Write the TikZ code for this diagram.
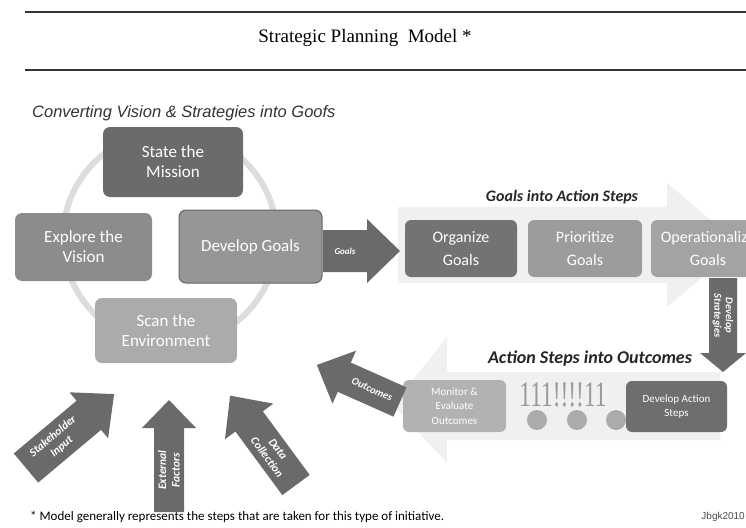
\documentclass[tikz,border=0pt]{standalone}
\usepackage{fontspec}
\setmainfont{Carlito}
\newfontfamily\serfont{Liberation Serif}
\newfontfamily\arifont{Liberation Sans}
\definecolor{arrowgray}{HTML}{6A6A6A}
\definecolor{pale}{HTML}{F0F0F0}
\definecolor{ringgray}{HTML}{DDDDDD}
\newcommand{\blockarrow}[7]{%
  % #1 name, #2 tail, #3 angle, #4 length, #5 body half, #6 head half, #7 head length
  \begin{scope}[shift={#2}, rotate=#3]
    \fill[arrowgray] (0,{-#5}) -- ({#4-#7},{-#5}) -- ({#4-#7},{-#6}) -- (#4,0)
      -- ({#4-#7},#6) -- ({#4-#7},#5) -- (0,#5) -- cycle;
    \coordinate (#1) at ({(#4-#7)/2},0);
  \end{scope}}
\tikzset{
  cyc/.style={rounded corners=7pt, align=center, text=white, inner sep=0pt,
    font=\fontsize{17}{20}\selectfont},
  stepbox/.style={rounded corners=6pt, align=center, text=white, inner sep=0pt,
    font=\fontsize{16}{23}\selectfont, minimum height=57pt},
  smallbox/.style={rounded corners=6pt, align=center, text=white, inner sep=0pt,
    font=\fontsize{11}{14.5}\selectfont},
  albl/.style={text=white, align=center, inner sep=0pt,
    font=\bfseries\itshape\fontsize{10}{11}\selectfont},
  inlbl/.style={albl, font=\bfseries\itshape\fontsize{11.5}{13.5}\selectfont},
  hdr/.style={text=black!85, font=\bfseries\itshape\fontsize{16}{18}\selectfont, inner sep=0pt},
}
\begin{document}
\begin{tikzpicture}[x=1pt,y=-1pt]
\useasboundingbox (0,0) rectangle (746,527);
\clip (0,0) rectangle (746,527);
\fill[white] (0,0) rectangle (746,527);

% header
\draw[line width=1.5pt, black!80] (25,12) -- (746,12);
\draw[line width=1.5pt, black!80] (25,70) -- (746,70);
\node[font=\serfont\fontsize{19}{22}\selectfont, inner sep=0pt] (title) at (365,38) {Strategic Planning\ \ Model *};
\node[anchor=west, font=\arifont\itshape\fontsize{16.5}{18}\selectfont, text=black!80, inner sep=0pt] (sub) at (32,113) {Converting Vision \& Strategies into Goofs};

% cycle ring
\draw[ringgray, line width=6pt] (170,238) circle (107);

% cycle boxes
\node[cyc, fill=black!58, minimum width=140pt, minimum height=70pt] (state) at (173,162) {State the\\Mission};
\node[cyc, fill=black!45, minimum width=137pt, minimum height=68pt] (explore) at (83.5,247) {Explore the\\Vision};
\node[cyc, fill=black!41, draw=black!60, line width=1pt, minimum width=143pt, minimum height=73pt] (devgoals) at (250.5,246.5) {Develop Goals};
\node[cyc, fill=black!33, minimum width=142pt, minimum height=65pt] (scan) at (166,330.5) {Scan the\\Environment};

% pale background arrows
\fill[pale] (398,207) -- (667,207) -- (667,183) -- (740,245) -- (667,307) -- (667,283) -- (398,283) -- cycle;
\fill[pale] (720,372) -- (447,372) -- (447,337) -- (393,405) -- (447,463) -- (447,440) -- (720,440) -- cycle;

% Goals arrow
\blockarrow{goalsA}{(323,251)}{0}{77}{21}{32}{33}
\node[albl, font=\bfseries\itshape\fontsize{9}{10}\selectfont] (goalslbl) at (goalsA) {Goals};

% goals into action steps
\node[hdr] (hdr1) at (562,197) {Goals into Action Steps};
\node[stepbox, fill=black!55, minimum width=112pt] (organize) at (461,248.5) {Organize\\Goals};
\node[stepbox, fill=black!39, minimum width=114pt] (prioritize) at (585,248.5) {Prioritize\\Goals};
\node[stepbox, fill=black!36, minimum width=114pt] (operational) at (708,248.5) {Operationalize\\Goals};

% Develop strategies arrow
\blockarrow{stratA}{(723,278)}{-90}{94}{14}{23}{19}
\node[albl, rotate=-90, font=\bfseries\itshape\fontsize{10.5}{11.5}\selectfont] (stratlbl) at (stratA) {Develop\\Strategies};

% action steps into outcomes
\node[hdr, font=\bfseries\itshape\fontsize{18}{20}\selectfont] (hdr2) at (590,359) {Action Steps into Outcomes};
\node[smallbox, fill=black!30, minimum width=103pt, minimum height=52pt] (monitor) at (454.5,406) {Monitor \&\\Evaluate\\Outcomes};
\node[smallbox, fill=black!57, minimum width=101pt, minimum height=51pt] (devaction) at (676.5,406.5) {Develop Action\\Steps};
\node[font=\serfont\fontsize{36}{38}\selectfont, xscale=0.65, text=black!40, inner sep=0pt] (bars) at (563,395) {111!!!!11};
\foreach \cx/\nm in {537/c1,577/c2,616/c3}
  \node[circle, fill=black!33, minimum size=20pt, inner sep=0pt] (\nm) at (\cx,420) {};

% Outcomes arrow
\blockarrow{outA}{(400,402)}{156}{91}{16}{29}{30}
\node[albl, rotate=-24, font=\bfseries\itshape\fontsize{10.5}{12}\selectfont] (outlbl) at (outA) {Outcomes};

% input arrows
\blockarrow{stakeA}{(26,468)}{40}{115}{19}{30}{33}
\node[inlbl, rotate=40] (stakelbl) at (stakeA) {Stakeholder\\Input};
\blockarrow{extA}{(169,512)}{90}{112}{15}{27}{28}
\node[inlbl, rotate=90] (extlbl) at (extA) {External\\Factors};
\blockarrow{dataA}{(296,485)}{126.4}{111}{17}{30}{32}
\node[inlbl, rotate=-53.6] (datalbl) at (dataA) {Data\\Collection};

% footer
\node[anchor=west, font=\fontsize{13}{15}\selectfont, inner sep=0pt] (foot) at (30,517) {* Model generally represents the steps that are taken for this type of initiative.};
\node[anchor=east, font=\arifont\fontsize{10}{12}\selectfont, text=black!70, inner sep=0pt] (sig) at (745,517) {Jbgk2010};
\end{tikzpicture}
\end{document}
